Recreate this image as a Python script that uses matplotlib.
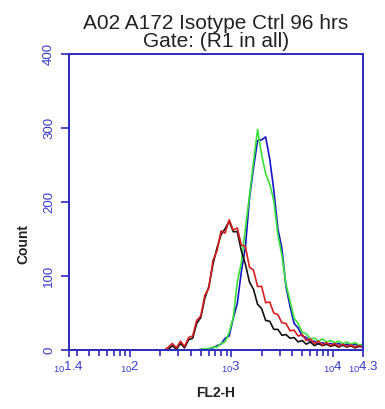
# -*- coding: utf-8 -*-
from matplotlib import pyplot as plt
import numpy as np

plt.rcParams['font.family'] = ['Liberation Sans', 'DejaVu Sans']
plt.rcParams['mathtext.fontset'] = 'custom'
plt.rcParams['mathtext.rm'] = 'Liberation Sans'

AXIS_BLUE = '#2b2bbf'
LABEL_BLUE = '#3a3ad0'

# histogram channels (log10 of FL2-H), shared by all four overlays
channels = [1.40, 2.30, 2.34, 2.38, 2.42, 2.46, 2.50, 2.54, 2.58, 2.62, 2.66,
            2.70, 2.74, 2.78, 2.82, 2.86, 2.90, 2.94, 2.98, 3.02, 3.06,
            3.10, 3.14, 3.18, 3.22, 3.26, 3.30, 3.34, 3.38, 3.42, 3.46,
            3.50, 3.54, 3.58, 3.62, 3.66, 3.70, 3.74, 3.78, 3.82, 3.86,
            3.90, 3.94, 3.98, 4.02, 4.06, 4.10, 4.14, 4.18, 4.22, 4.26, 4.30]

counts_red = [0, 0, 0, 4, 9, 3, 12, 5, 17, 19, 40, 46, 74, 84, 121, 134, 161, 158, 176, 162,
              165, 142, 140, 112, 108, 86, 86, 64, 65, 50, 48, 37, 36, 26, 27, 19,
              21, 13, 15, 9, 12, 7, 10, 6, 9, 5, 8, 5, 7, 4, 6, 4]
counts_black = [0, 0, 0, 1, 6, 1, 9, 3, 14, 16, 36, 44, 70, 86, 116, 138, 156, 164, 174, 160,
                160, 134, 116, 92, 82, 62, 56, 40, 39, 28, 28, 20, 21, 16, 17, 11,
                13, 8, 11, 6, 9, 6, 8, 5, 7, 4, 7, 4, 6, 3, 5, 4]
counts_blue = [0, 0, 0, 0, 0, 0, 0, 0, 0, 0, 0, 1, 1, 2, 3, 6, 8, 16, 19, 43,
               63, 106, 139, 205, 246, 283, 284, 288, 258, 216, 164, 137, 86, 59, 36, 30,
               19, 17, 11, 12, 8, 10, 8, 9, 7, 9, 6, 8, 6, 8, 5, 6]
counts_green = [0, 0, 0, 0, 0, 0, 0, 0, 0, 0, 0, 1, 2, 2, 4, 4, 9, 11, 24, 44,
                92, 118, 164, 208, 254, 298, 264, 238, 224, 202, 156, 128, 89, 66, 43, 36,
                24, 22, 15, 16, 12, 15, 11, 13, 10, 12, 9, 11, 8, 10, 7, 8]

series = [
    (counts_blue, '#1414c8'),
    (counts_green, '#38e038'),
    (counts_black, '#111111'),
    (counts_red, '#d81e1e'),
]

x_major = [1.4, 2, 3, 4, 4.3]
x_labels = [r'$_{10}$1.4', r'$_{10}$2', r'$_{10}$3', r'$_{10}$4', r'$_{10}$4.3']
y_ticks = [0, 100, 200, 300, 400]

fig = plt.figure(figsize=(3.85, 4.09), dpi=100)
ax = fig.add_axes([0.179, 0.144, 0.764, 0.724])

fl2 = 10 ** np.array(channels)
for counts, color in series:
    ax.plot(fl2, counts, color=color, linewidth=1.2)

ax.set_xscale('log')
ax.set_xlim(10 ** 1.4, 10 ** 4.3)
ax.set_ylim(0, 400)

minor = [m * 10 ** d for d in (1, 2, 3) for m in range(2, 10) if 10 ** 1.4 < m * 10 ** d < 10 ** 4.3]
ax.set_xticks([10 ** v for v in x_major])
ax.set_xticklabels(x_labels)
ax.set_xticks(minor, minor=True)
ax.xaxis.set_minor_formatter(plt.NullFormatter())
ax.set_yticks(y_ticks)
ax.set_yticklabels([str(v) for v in y_ticks], rotation=90, va='center')

ax.tick_params(axis='x', which='major', length=5, width=1.2, color=AXIS_BLUE,
               labelcolor=LABEL_BLUE, labelsize=9.5, pad=2)
ax.tick_params(axis='x', which='minor', length=4, width=1.2, color=AXIS_BLUE)
ax.tick_params(axis='y', length=6, width=1.2, color=AXIS_BLUE,
               labelcolor=LABEL_BLUE, labelsize=9.5, pad=4)
for side in ['left', 'right', 'top', 'bottom']:
    ax.spines[side].set_color(AXIS_BLUE)
    ax.spines[side].set_linewidth(1.4)

ax.set_xlabel('FL2-H', fontsize=10, fontweight='bold', color='#222222', labelpad=8)
ax.set_ylabel('Count', fontsize=10, fontweight='bold', color='#222222')
ax.yaxis.set_label_coords(-0.13, 0.36)
ax.set_title('A02 A172 Isotype Ctrl 96 hrs\nGate: (R1 in all)', fontsize=15,
             color='#222222', pad=5, linespacing=0.95)

plt.savefig('out.png', dpi=100)
plt.close()
